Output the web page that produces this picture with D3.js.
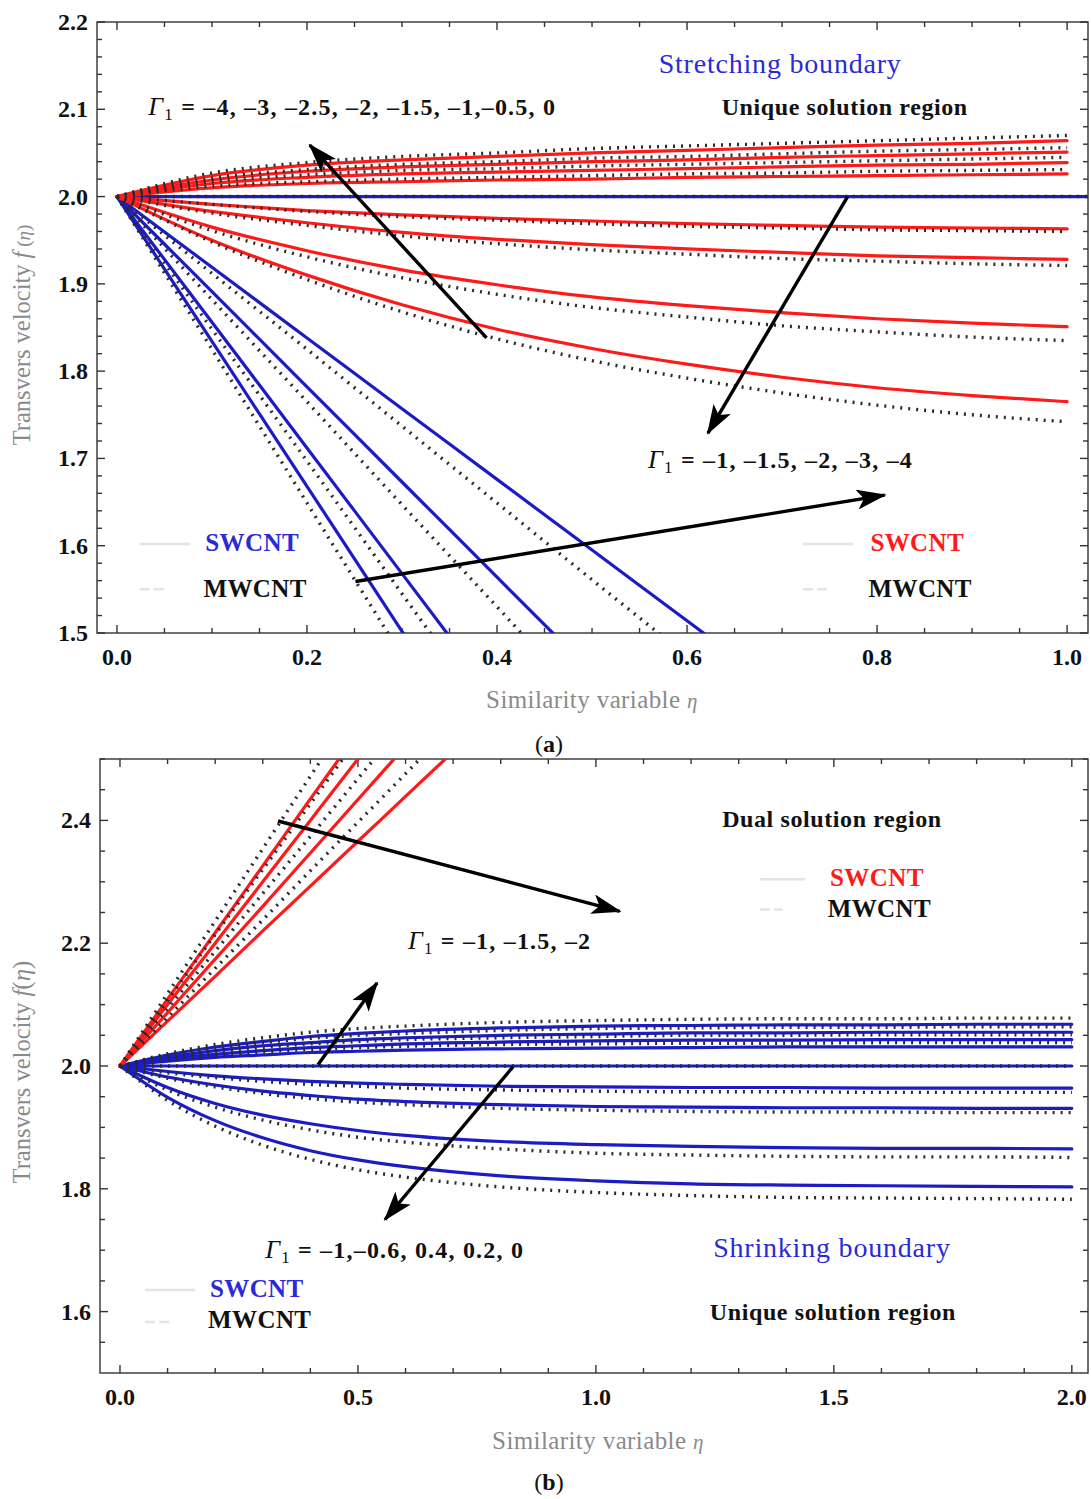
<!DOCTYPE html>
<html>
<head>
<meta charset="utf-8">
<script src="https://cdn.jsdelivr.net/npm/d3@7/dist/d3.min.js"></script>
<style>
  html, body { margin: 0; padding: 0; background: #fff; }
  svg { display: block; }
  text { font-family: "Liberation Serif", "Times New Roman", serif; }
</style>
</head>
<body>
<svg id="chart" width="1091" height="1499"></svg>
<script>
// ================= DATA =================
// Panel (a) : stretching boundary, eta from 0 to 1
const etaA = [0, 0.1, 0.2, 0.3, 0.4, 0.5, 0.6, 0.7, 0.8, 0.9, 1.0];
// SWCNT (solid red) – rising group
const aRedUpSW = [
  [2, 2.024, 2.036, 2.042, 2.046, 2.050, 2.053, 2.056, 2.059, 2.061, 2.064],
  [2, 2.019, 2.029, 2.034, 2.037, 2.040, 2.042, 2.045, 2.047, 2.049, 2.051],
  [2, 2.015, 2.022, 2.026, 2.028, 2.030, 2.032, 2.034, 2.036, 2.037, 2.039],
  [2, 2.010, 2.015, 2.017, 2.019, 2.020, 2.022, 2.023, 2.024, 2.025, 2.026]
];
// SWCNT (solid red) – falling group
const aRedDownSW = [
  [2, 1.991, 1.984, 1.979, 1.975, 1.972, 1.969, 1.967, 1.965, 1.964, 1.963],
  [2, 1.983, 1.970, 1.959, 1.951, 1.945, 1.940, 1.936, 1.932, 1.930, 1.928],
  [2, 1.965, 1.938, 1.916, 1.899, 1.885, 1.875, 1.867, 1.860, 1.855, 1.851],
  [2, 1.950, 1.910, 1.876, 1.848, 1.826, 1.808, 1.793, 1.781, 1.772, 1.765]
];
// MWCNT (dotted) – rising group
const aRedUpMW = [
  [2, 2.027, 2.039, 2.046, 2.050, 2.055, 2.058, 2.061, 2.064, 2.067, 2.070],
  [2, 2.021, 2.031, 2.037, 2.040, 2.044, 2.046, 2.049, 2.052, 2.054, 2.056],
  [2, 2.017, 2.025, 2.030, 2.032, 2.035, 2.037, 2.039, 2.041, 2.043, 2.045],
  [2, 2.012, 2.017, 2.020, 2.022, 2.024, 2.026, 2.027, 2.029, 2.030, 2.031]
];
// MWCNT (dotted) – falling group
const aRedDownMW = [
  [2, 1.991, 1.983, 1.977, 1.973, 1.969, 1.966, 1.964, 1.962, 1.961, 1.960],
  [2, 1.981, 1.967, 1.955, 1.946, 1.939, 1.934, 1.929, 1.926, 1.923, 1.921],
  [2, 1.961, 1.931, 1.907, 1.888, 1.873, 1.862, 1.852, 1.845, 1.839, 1.835],
  [2, 1.948, 1.905, 1.868, 1.837, 1.812, 1.792, 1.775, 1.761, 1.750, 1.742]
];
// flat line at f = 2 (both fluids)
const etaAFlat = [0, 1.022];
const aFlat = [2, 2];
// steep blue lines (SWCNT solid, MWCNT dotted)
const etaALine = [0, 0.1, 0.2, 0.3, 0.4, 0.5, 0.6, 0.7];
const aBlueSW = [
  [2, 1.834, 1.668, 1.502, 1.336],
  [2, 1.856, 1.712, 1.568, 1.424],
  [2, 1.891, 1.782, 1.673, 1.564, 1.455],
  [2, 1.919, 1.838, 1.757, 1.676, 1.595, 1.514, 1.433]
];
const aBlueMW = [
  [2, 1.825, 1.649, 1.474],
  [2, 1.848, 1.697, 1.545, 1.394],
  [2, 1.882, 1.765, 1.647, 1.530, 1.412],
  [2, 1.912, 1.825, 1.737, 1.649, 1.561, 1.474]
];
const aXTicks = [0, 0.2, 0.4, 0.6, 0.8, 1.0];
const aYTicks = [1.5, 1.6, 1.7, 1.8, 1.9, 2.0, 2.1, 2.2];

// Panel (b) : shrinking boundary, eta from 0 to 2
const etaBRed = [0, 0.1, 0.2, 0.3, 0.4, 0.5, 0.6, 0.7];
const bRedSW = [
  [2, 2.109, 2.217, 2.326, 2.435, 2.543],
  [2, 2.100, 2.200, 2.300, 2.400, 2.500, 2.600],
  [2, 2.087, 2.174, 2.260, 2.347, 2.434, 2.521],
  [2, 2.073, 2.146, 2.220, 2.293, 2.366, 2.439, 2.512]
];
const bRedMW = [
  [2, 2.118, 2.236, 2.354, 2.472, 2.590],
  [2, 2.107, 2.214, 2.320, 2.427, 2.534],
  [2, 2.094, 2.187, 2.281, 2.374, 2.468, 2.562],
  [2, 2.079, 2.159, 2.238, 2.318, 2.397, 2.476, 2.556]
];
const etaB = [0, 0.1, 0.2, 0.3, 0.4, 0.5, 0.6, 0.8, 1.0, 1.2, 1.4, 1.6, 1.8, 2.0];
const bBlueSW = [
  [2, 2.018, 2.031, 2.040, 2.048, 2.053, 2.057, 2.062, 2.065, 2.066, 2.067, 2.067, 2.068, 2.068],
  [2, 2.014, 2.025, 2.033, 2.038, 2.043, 2.046, 2.050, 2.052, 2.054, 2.054, 2.055, 2.055, 2.055],
  [2, 2.011, 2.019, 2.025, 2.030, 2.033, 2.036, 2.039, 2.041, 2.042, 2.042, 2.043, 2.043, 2.043],
  [2, 2.008, 2.014, 2.018, 2.022, 2.024, 2.026, 2.028, 2.029, 2.030, 2.031, 2.031, 2.031, 2.031],
  [2, 2.000, 2.000, 2.000, 2.000, 2.000, 2.000, 2.000, 2.000, 2.000, 2.000, 2.000, 2.000, 2.000],
  [2, 1.991, 1.984, 1.979, 1.975, 1.972, 1.970, 1.967, 1.966, 1.965, 1.965, 1.964, 1.964, 1.964],
  [2, 1.982, 1.969, 1.959, 1.952, 1.946, 1.942, 1.937, 1.934, 1.933, 1.932, 1.932, 1.931, 1.931],
  [2, 1.965, 1.939, 1.920, 1.906, 1.895, 1.887, 1.877, 1.872, 1.869, 1.867, 1.866, 1.866, 1.865],
  [2, 1.949, 1.911, 1.883, 1.862, 1.847, 1.836, 1.821, 1.813, 1.808, 1.806, 1.805, 1.804, 1.803]
];
const bBlueMW = [
  [2, 2.020, 2.035, 2.046, 2.055, 2.061, 2.065, 2.071, 2.074, 2.076, 2.077, 2.077, 2.078, 2.078],
  [2, 2.017, 2.029, 2.038, 2.045, 2.050, 2.053, 2.058, 2.061, 2.062, 2.063, 2.063, 2.064, 2.064],
  [2, 2.013, 2.023, 2.030, 2.036, 2.040, 2.043, 2.046, 2.048, 2.050, 2.050, 2.051, 2.051, 2.051],
  [2, 2.010, 2.017, 2.023, 2.027, 2.030, 2.032, 2.035, 2.036, 2.037, 2.037, 2.038, 2.038, 2.038],
  [2, 2.000, 2.000, 2.000, 2.000, 2.000, 2.000, 2.000, 2.000, 2.000, 2.000, 2.000, 2.000, 2.000],
  [2, 1.989, 1.981, 1.975, 1.970, 1.967, 1.964, 1.961, 1.959, 1.958, 1.958, 1.957, 1.957, 1.957],
  [2, 1.980, 1.966, 1.955, 1.947, 1.941, 1.937, 1.931, 1.928, 1.926, 1.925, 1.925, 1.924, 1.924],
  [2, 1.961, 1.933, 1.912, 1.896, 1.884, 1.876, 1.865, 1.858, 1.855, 1.853, 1.852, 1.852, 1.851],
  [2, 1.944, 1.902, 1.871, 1.848, 1.831, 1.819, 1.803, 1.794, 1.789, 1.786, 1.785, 1.784, 1.783]
];
const bXTicks = [0, 0.5, 1.0, 1.5, 2.0];
const bYTicks = [1.6, 1.8, 2.0, 2.2, 2.4];

// ================= DRAWING =================
const svg = d3.select("#chart");
const RED = "#ff1a1a", BLUE = "#1c1cc4", DOT = "#2a2a2a";
const TICKFONT = 24;

function makePanel(cfg) {
  const g = svg.append("g");
  const x = d3.scaleLinear().domain(cfg.xDom).range([cfg.left, cfg.right]);
  const y = d3.scaleLinear().domain(cfg.yDom).range([cfg.bottom, cfg.top]);
  const clipId = "clip" + cfg.id;
  svg.append("clipPath").attr("id", clipId).append("rect")
    .attr("x", cfg.left).attr("y", cfg.top)
    .attr("width", cfg.right - cfg.left).attr("height", cfg.bottom - cfg.top);

  // frame
  g.append("rect").attr("x", cfg.left).attr("y", cfg.top)
    .attr("width", cfg.right - cfg.left).attr("height", cfg.bottom - cfg.top)
    .attr("fill", "none").attr("stroke", "#333").attr("stroke-width", 1.4);

  // ticks (inward), minor and major
  const minorX = d3.range(cfg.xMinor[0], cfg.xMinor[1] + 1e-9, cfg.xMinor[2]);
  const minorY = d3.range(cfg.yMinor[0], cfg.yMinor[1] + 1e-9, cfg.yMinor[2]);
  const isMajor = (v, arr) => arr.some(t => Math.abs(t - v) < 1e-6);
  const tg = g.append("g").attr("stroke", "#333").attr("stroke-width", 1.4);
  minorX.forEach(v => {
    const L = isMajor(v, cfg.xTicks) ? 8 : 5;
    tg.append("line").attr("x1", x(v)).attr("x2", x(v)).attr("y1", cfg.bottom).attr("y2", cfg.bottom - L);
    tg.append("line").attr("x1", x(v)).attr("x2", x(v)).attr("y1", cfg.top).attr("y2", cfg.top + L);
  });
  minorY.forEach(v => {
    const L = isMajor(v, cfg.yTicks) ? 8 : 5;
    tg.append("line").attr("y1", y(v)).attr("y2", y(v)).attr("x1", cfg.left).attr("x2", cfg.left + L);
    tg.append("line").attr("y1", y(v)).attr("y2", y(v)).attr("x1", cfg.right).attr("x2", cfg.right - L);
  });
  // tick labels
  cfg.xTicks.forEach(v => {
    g.append("text").attr("x", x(v)).attr("y", cfg.bottom + 32)
      .attr("text-anchor", "middle").attr("font-size", TICKFONT).attr("font-weight", "bold")
      .attr("fill", "#111").text(d3.format(".1f")(v));
  });
  cfg.yTicks.forEach(v => {
    g.append("text").attr("x", cfg.left - 9).attr("y", y(v) + 8)
      .attr("text-anchor", "end").attr("font-size", TICKFONT).attr("font-weight", "bold")
      .attr("fill", "#111").text(d3.format(".1f")(v));
  });

  // axis titles
  g.append("text").attr("x", cfg.xTitle[0]).attr("y", cfg.xTitle[1])
    .attr("text-anchor", "middle").attr("font-size", 25).attr("fill", "#8a8a8a")
    .attr("letter-spacing", 0.4)
    .text("Similarity variable  ")
    .append("tspan").attr("font-style", "italic").attr("font-size", 21).text("η");
  const yt = g.append("text")
    .attr("transform", `translate(${cfg.yTitle[0]},${cfg.yTitle[1]}) rotate(-90)`)
    .attr("text-anchor", "middle").attr("font-size", 24.5).attr("fill", "#8a8a8a");
  yt.append("tspan").text(cfg.yTitleText);
  yt.append("tspan").attr("font-style", "italic").text("f");
  const small = cfg.id === "a";
  yt.append("tspan").attr("font-size", small ? 19 : 25).text(small ? " (" : "(");
  yt.append("tspan").attr("font-style", "italic").attr("font-size", small ? 19 : 25).text("η");
  yt.append("tspan").attr("font-size", small ? 19 : 25).text(")");

  const plot = g.append("g").attr("clip-path", `url(#${clipId})`);
  return { g, plot, x, y };
}

function drawSeries(p, etas, series, color, dotted) {
  const line = d3.line()
    .x((d, i) => p.x(etas[i]))
    .y(d => p.y(d))
    .curve(d3.curveMonotoneX);
  series.forEach(s => {
    const path = p.plot.append("path").datum(s)
      .attr("d", line).attr("fill", "none");
    if (dotted) {
      path.attr("stroke", DOT).attr("stroke-width", 3.4).attr("stroke-dasharray", "2,6");
    } else {
      path.attr("stroke", color).attr("stroke-width", 3.2).attr("stroke-linecap", "round");
    }
  });
}

// arrowhead marker
const defs = svg.append("defs");
defs.append("marker").attr("id", "ah").attr("viewBox", "0 0 30 20")
  .attr("refX", 28).attr("refY", 10).attr("markerWidth", 30).attr("markerHeight", 20)
  .attr("markerUnits", "userSpaceOnUse").attr("orient", "auto")
  .append("path").attr("d", "M0,0 L30,10 L0,20 L7,10 Z").attr("fill", "#000");

function arrow(p, a) {
  p.g.append("line").attr("x1", p.x(a[0])).attr("y1", p.y(a[1]))
    .attr("x2", p.x(a[2])).attr("y2", p.y(a[3]))
    .attr("stroke", "#000").attr("stroke-width", 3.4).attr("marker-end", "url(#ah)");
}

function gammaLabel(p, pos, rest) {
  const t = p.g.append("text").attr("x", p.x(pos[0])).attr("y", p.y(pos[1]))
    .attr("font-size", 24).attr("font-weight", "bold").attr("fill", "#111")
    .attr("letter-spacing", 1.2);
  t.append("tspan").attr("font-style", "italic").attr("font-weight", "normal").attr("font-size", 26).text("Γ");
  t.append("tspan").attr("font-size", 17).attr("font-weight", "normal").attr("dy", 5).text("1");
  t.append("tspan").attr("dy", -5).text(" = " + rest);
}

function label(p, pos, txt, opts) {
  p.g.append("text").attr("x", p.x(pos[0])).attr("y", p.y(pos[1]))
    .attr("text-anchor", opts.anchor || "start")
    .attr("font-size", opts.size || 24)
    .attr("letter-spacing", opts.ls || 0)
    .attr("font-weight", opts.bold ? "bold" : "normal")
    .attr("fill", opts.color || "#111").text(txt);
}

function legendLine(p, a, dashed) {
  p.g.append("line").attr("x1", p.x(a[0])).attr("x2", p.x(a[1]))
    .attr("y1", p.y(a[2])).attr("y2", p.y(a[2]))
    .attr("stroke", "#e4e4e4").attr("stroke-width", 2.5)
    .attr("stroke-dasharray", dashed ? "10,4" : null);
}

// ---------- Panel (a) ----------
const pa = makePanel({
  id: "a", left: 97, right: 1088, top: 22, bottom: 633,
  xDom: [-0.021, 1.022], yDom: [1.5, 2.2],
  xTicks: aXTicks, yTicks: aYTicks,
  xMinor: [0, 1.0, 0.05], yMinor: [1.5, 2.2, 0.02],
  xTitle: [592, 708], yTitle: [30, 335],
  yTitleText: "Transvers velocity "
});
drawSeries(pa, etaAFlat, [aFlat], BLUE, false);
drawSeries(pa, etaALine, aBlueSW, BLUE, false);
drawSeries(pa, etaA, aRedUpSW, RED, false);
drawSeries(pa, etaA, aRedDownSW, RED, false);
drawSeries(pa, etaAFlat, [aFlat], BLUE, true);
drawSeries(pa, etaALine, aBlueMW, BLUE, true);
drawSeries(pa, etaA, aRedUpMW, RED, true);
drawSeries(pa, etaA, aRedDownMW, RED, true);

label(pa, [0.698, 2.142], "Stretching boundary", { anchor: "middle", size: 28, ls: 0.8, color: "#2a2ad6" });
gammaLabel(pa, [0.033, 2.093], "–4, –3, –2.5, –2, –1.5, –1,–0.5, 0");
label(pa, [0.766, 2.093], "Unique solution region", { anchor: "middle", bold: true, size: 24, ls: 0.6 });
gammaLabel(pa, [0.559, 1.689], "–1, –1.5, –2, –3, –4");
legendLine(pa, [0.024, 0.077, 1.602], false);
legendLine(pa, [0.024, 0.050, 1.550], true);
label(pa, [0.093, 1.594], "SWCNT", { bold: true, color: "#2a2ad6", size: 25, ls: 0.4 });
label(pa, [0.091, 1.541], "MWCNT", { bold: true, size: 25, ls: 0.4 });
legendLine(pa, [0.722, 0.775, 1.602], false);
legendLine(pa, [0.722, 0.748, 1.550], true);
label(pa, [0.793, 1.594], "SWCNT", { bold: true, color: "#ff1a1a", size: 25, ls: 0.4 });
label(pa, [0.791, 1.541], "MWCNT", { bold: true, size: 25, ls: 0.4 });
arrow(pa, [0.389, 1.838, 0.203, 2.059]);
arrow(pa, [0.769, 2.0, 0.622, 1.729]);
arrow(pa, [0.251, 1.559, 0.808, 1.658]);

// caption (a)
const capA = svg.append("text").attr("x", 549).attr("y", 752).attr("text-anchor", "middle")
  .attr("font-size", 24).attr("fill", "#111");
capA.append("tspan").text("(");
capA.append("tspan").attr("font-weight", "bold").text("a");
capA.append("tspan").text(")");

// ---------- Panel (b) ----------
const pb = makePanel({
  id: "b", left: 100, right: 1088, top: 759, bottom: 1373,
  xDom: [-0.042, 2.034], yDom: [1.5, 2.5],
  xTicks: bXTicks, yTicks: bYTicks,
  xMinor: [0, 2.0, 0.1], yMinor: [1.55, 2.5, 0.05],
  xTitle: [598, 1449], yTitle: [30, 1072],
  yTitleText: "Transvers velocity  "
});
drawSeries(pb, etaB, bBlueSW, BLUE, false);
drawSeries(pb, etaBRed, bRedSW, RED, false);
drawSeries(pb, etaB, bBlueMW, BLUE, true);
drawSeries(pb, etaBRed, bRedMW, RED, true);

label(pb, [1.496, 2.389], "Dual solution region", { anchor: "middle", bold: true, size: 24, ls: 0.6 });
legendLine(pb, [1.345, 1.439, 2.304], false);
legendLine(pb, [1.345, 1.392, 2.255], true);
label(pb, [1.492, 2.293], "SWCNT", { bold: true, color: "#ff1a1a", size: 25, ls: 0.4 });
label(pb, [1.487, 2.242], "MWCNT", { bold: true, size: 25, ls: 0.4 });
gammaLabel(pb, [0.605, 2.19], "–1, –1.5, –2");
gammaLabel(pb, [0.305, 1.688], "–1,–0.6, 0.4, 0.2, 0");
label(pb, [1.496, 1.689], "Shrinking boundary", { anchor: "middle", size: 28, ls: 0.8, color: "#2a2ad6" });
label(pb, [1.498, 1.586], "Unique solution region", { anchor: "middle", bold: true, size: 24, ls: 0.6 });
legendLine(pb, [0.053, 0.158, 1.635], false);
legendLine(pb, [0.053, 0.105, 1.583], true);
label(pb, [0.189, 1.624], "SWCNT", { bold: true, color: "#2a2ad6", size: 25, ls: 0.4 });
label(pb, [0.185, 1.573], "MWCNT", { bold: true, size: 25, ls: 0.4 });
arrow(pb, [0.332, 2.399, 1.05, 2.252]);
arrow(pb, [0.416, 2.002, 0.54, 2.135]);
arrow(pb, [0.826, 1.999, 0.557, 1.75]);

const capB = svg.append("text").attr("x", 549).attr("y", 1490).attr("text-anchor", "middle")
  .attr("font-size", 24).attr("fill", "#111");
capB.append("tspan").text("(");
capB.append("tspan").attr("font-weight", "bold").text("b");
capB.append("tspan").text(")");
</script>
</body>
</html>
